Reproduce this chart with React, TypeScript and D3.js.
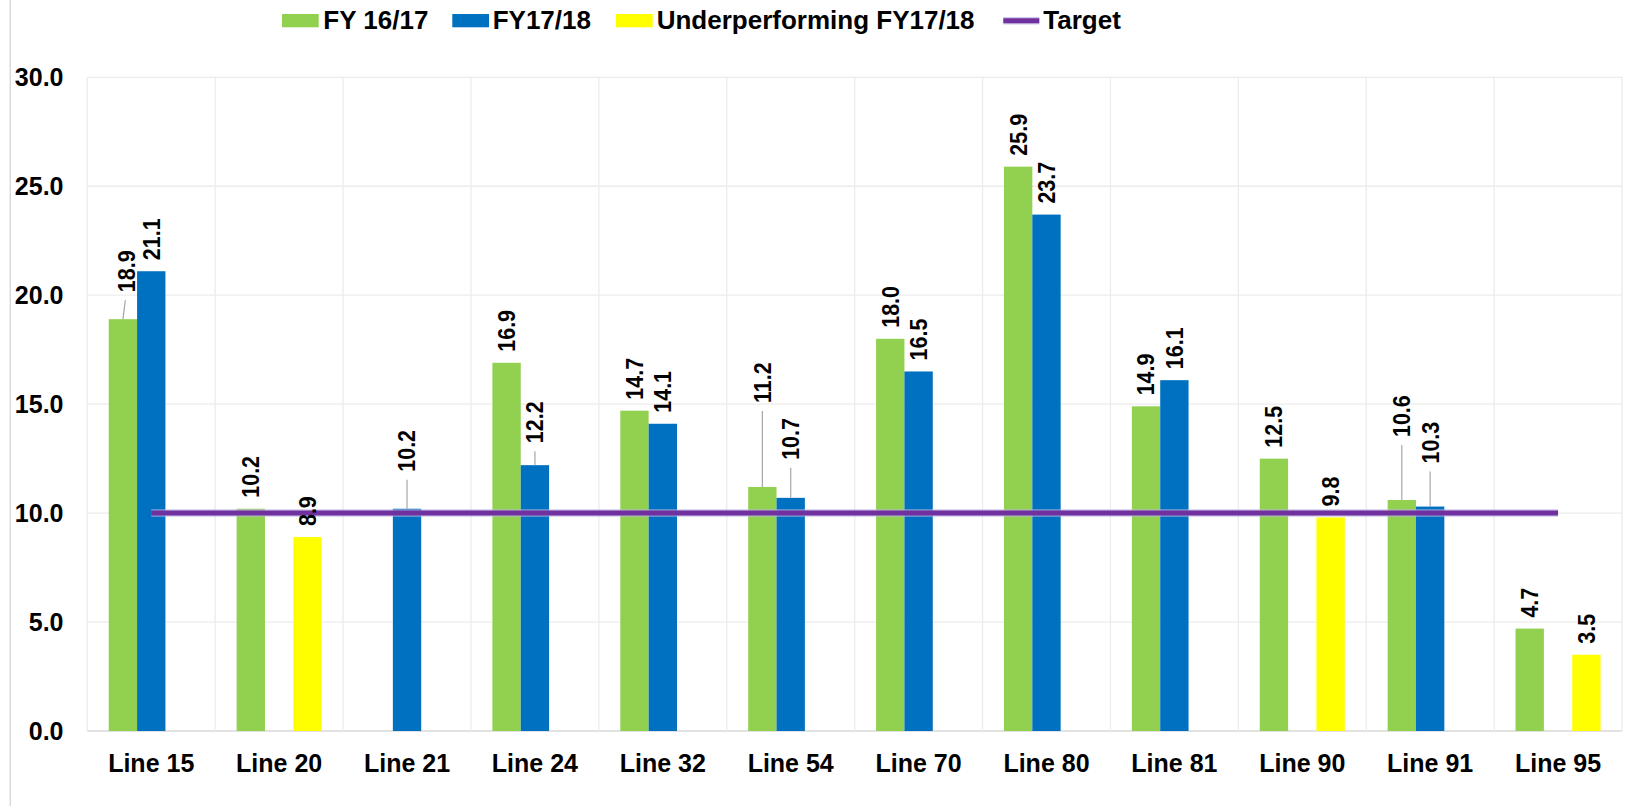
import React from "react";
import * as d3 from "d3";

const categories = ["Line 15", "Line 20", "Line 21", "Line 24", "Line 32", "Line 54", "Line 70", "Line 80", "Line 81", "Line 90", "Line 91", "Line 95"];
const fy1617: (number | null)[] = [18.9, 10.2, null, 16.9, 14.7, 11.2, 18.0, 25.9, 14.9, 12.5, 10.6, 4.7];
const fy1718: (number | null)[] = [21.1, null, 10.2, 12.2, 14.1, 10.7, 16.5, 23.7, 16.1, null, 10.3, null];
const underperforming: (number | null)[] = [null, 8.9, null, null, null, null, null, null, null, 9.8, null, 3.5];
const target: number[] = [10, 10, 10, 10, 10, 10, 10, 10, 10, 10, 10, 10];
const yTicks = [0, 5, 10, 15, 20, 25, 30];

const seriesNames = ["FY 16/17", "FY17/18", "Underperforming FY17/18", "Target"];

// label placement tweaks (moved labels with leader lines), px
const labelLift: Record<string, { lift: number; dx: number }> = {
  "0-0": { lift: 16, dx: 3.5 },
  "2-1": { lift: 26, dx: 0 },
  "3-1": { lift: 11, dx: 0 },
  "5-0": { lift: 73, dx: 0 },
  "5-1": { lift: 27, dx: 0 },
  "10-0": { lift: 52, dx: 0 },
  "10-1": { lift: 32, dx: 0 },
};

const W = 1636;
const H = 806;
const FONT = "'Liberation Sans', Arial, Helvetica, sans-serif";
const colors = ["#92D050", "#0070C0", "#FFFF00"];
const PURPLE = "#7030A0";

export default function App() {
  const left = 87.3;
  const right = 1622;
  const top = 77.3;
  const bottom = 731;

  const x = d3.scaleBand<string>().domain(categories).range([left, right]).paddingInner(0).paddingOuter(0);
  const sub = d3.scaleBand<string>().domain(["0", "1", "2"]).range([0, x.bandwidth()]).paddingInner(0).paddingOuter(0.756);
  const y = d3.scaleLinear().domain([0, 30]).range([bottom, top]);

  const series = [fy1617, fy1718, underperforming];

  const bars: JSX.Element[] = [];
  const labels: JSX.Element[] = [];
  series.forEach((arr, si) => {
    arr.forEach((v, ci) => {
      if (v == null) return;
      const bx = (x(categories[ci]) as number) + (sub(String(si)) as number);
      const bw = sub.bandwidth();
      const by = y(v);
      bars.push(
        <rect key={`b-${si}-${ci}`} x={bx} y={by} width={bw} height={bottom - by} fill={colors[si]} />
      );
      const adj = labelLift[`${ci}-${si}`] || { lift: 0, dx: 0 };
      const cx = bx + bw / 2;
      const start = by - 11 - adj.lift;
      const lx = cx + adj.dx;
      if (adj.lift > 0) {
        labels.push(
          <line key={`ll-${si}-${ci}`} x1={cx} y1={by} x2={lx - adj.dx * 0.3} y2={start + 8} stroke="#a6a6a6" strokeWidth={1.2} />
        );
      }
      labels.push(
        <text
          key={`t-${si}-${ci}`}
          transform={`translate(${lx},${start}) rotate(-90) scale(1,1.08)`}
          dy="0.36em"
          fontSize={21.5}
          fontWeight="bold"
          fontFamily={FONT}
          fill="#000"
        >
          {v.toFixed(1)}
        </text>
      );
    });
  });

  const line = d3
    .line<number>()
    .x((_, i) => (x(categories[i]) as number) + x.bandwidth() / 2)
    .y((d) => y(d));
  const targetPath = line(target) || "";

  const legendY = 29;
  const legendItems = [
    { boxX: 282, textX: 323.3, color: colors[0], name: seriesNames[0], kind: "box" },
    { boxX: 452.3, textX: 492.7, color: colors[1], name: seriesNames[1], kind: "box" },
    { boxX: 616, textX: 656.7, color: colors[2], name: seriesNames[2], kind: "box" },
    { boxX: 1003.3, textX: 1043.3, color: PURPLE, name: seriesNames[3], kind: "line" },
  ];

  return (
    <svg
      width={W}
      height={H}
      style={{ position: "absolute", left: 0, top: 0, background: "#fff" }}
    >
      <rect x={0} y={0} width={W} height={H} fill="#fff" />
      <line x1={10.3} y1={0} x2={10.3} y2={H} stroke="#d9d9d9" strokeWidth={1.5} />

      {/* horizontal gridlines */}
      {yTicks.map((t) => (
        <line key={`hg-${t}`} x1={left} x2={right} y1={y(t)} y2={y(t)} stroke={t === 0 ? "#d9d9d9" : "#ececec"} strokeWidth={1.3} />
      ))}
      {/* vertical gridlines at category boundaries */}
      {categories.map((c) => (
        <line key={`vg-${c}`} x1={x(c) as number} x2={x(c) as number} y1={top} y2={bottom} stroke="#ececec" strokeWidth={1.3} />
      ))}
      <line x1={right} x2={right} y1={top} y2={bottom} stroke="#ececec" strokeWidth={1.3} />

      {bars}

      {/* target line */}
      <path d={targetPath} fill="none" stroke="#b9b3e0" strokeWidth={7.5} opacity={0.7} />
      <path d={targetPath} fill="none" stroke={PURPLE} strokeWidth={5} />

      {labels}

      {/* y tick labels */}
      {yTicks.map((t) => (
        <text
          key={`yt-${t}`}
          x={63.5}
          y={y(t)}
          dy="0.36em"
          textAnchor="end"
          fontSize={25}
          fontWeight="bold"
          fontFamily={FONT}
          fill="#000"
        >
          {t.toFixed(1)}
        </text>
      ))}

      {/* category labels */}
      {categories.map((c) => (
        <text
          key={`xl-${c}`}
          x={(x(c) as number) + x.bandwidth() / 2}
          y={772}
          textAnchor="middle"
          fontSize={25}
          fontWeight="bold"
          fontFamily={FONT}
          fill="#000"
        >
          {c}
        </text>
      ))}

      {/* legend */}
      {legendItems.map((it) => (
        <g key={`lg-${it.name}`}>
          {it.kind === "box" ? (
            <rect x={it.boxX} y={14} width={36.7} height={13.3} fill={it.color} />
          ) : (
            <g>
              <line x1={it.boxX} x2={it.boxX + 36} y1={20.7} y2={20.7} stroke="#b9b3e0" strokeWidth={7.5} opacity={0.7} />
              <line x1={it.boxX} x2={it.boxX + 36} y1={20.7} y2={20.7} stroke={it.color} strokeWidth={5} />
            </g>
          )}
          <text x={it.textX} y={legendY} fontSize={26} fontWeight="bold" fontFamily={FONT} fill="#000">
            {it.name}
          </text>
        </g>
      ))}
    </svg>
  );
}
